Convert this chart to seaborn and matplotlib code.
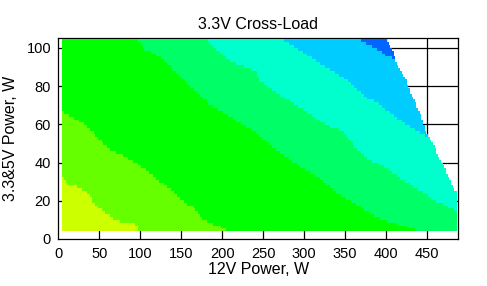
import numpy as np
import matplotlib
matplotlib.use("Agg")
import matplotlib.pyplot as plt
import seaborn as sns
from matplotlib.colors import ListedColormap

# ---- data (W) ----
title = "3.3V Cross-Load"
x_label = "12V Power, W"
y_label = "3.3&5V Power, W"
x_ticks = [0, 50, 100, 150, 200, 250, 300, 350, 400, 450]
y_ticks = [0, 20, 40, 60, 80, 100]

level_colors = ["#CCFF00", "#66FF00", "#00FF00", "#00FF66", "#00FFCC", "#00CCFF", "#0066FF"]

# boundary between level k and k+1: 12V power (x) at a given 3.3&5V power (y)
b0_y = [4, 7, 8.5, 9.5, 12, 15.3, 18.8, 24, 26.7, 29, 32.5]
b0_x = [98, 97, 90, 70, 63, 53, 43, 37, 26, 10, 5]
b1_y = [4, 6.5, 10, 16.6, 18, 27.5, 32.8, 39.8, 45, 47.4, 52, 59, 62.6, 67]
b1_x = [209, 197, 177, 165, 158, 132, 116, 96, 73, 60, 51, 35, 22, 5]
b2_y = [4, 6.1, 9.6, 14, 18.4, 23.7, 28.5, 31.6, 36.8, 43, 49, 56, 60.5, 65, 70.2, 75.4, 79, 82.4, 87.7, 93, 96.5, 99, 103.5, 105.5]
b2_x = [440, 427, 398, 378, 362, 341, 328, 319, 299, 278, 258, 240, 222, 207, 185, 173, 163, 155, 142, 130, 118, 106, 98, 89]
b3_y = [14, 15.8, 19.3, 23.7, 28, 32.4, 37.7, 42, 48.2, 57, 58.7, 60.5, 64, 67.5, 72, 75.4, 79, 82.4, 87.7, 90.3, 93, 96.5, 100, 102.6, 105.5]
b3_x = [488, 480, 463, 447, 431, 415, 398, 378, 362, 346, 331, 323, 311, 299, 283, 270, 258, 246, 242, 226, 209, 201, 191, 185, 179]
b4_y = [51, 54.4, 57, 60.5, 64, 68.4, 72, 74.5, 79, 84, 89.5, 94.7, 100, 105.5]
b4_x = [460, 447, 435, 423, 411, 398, 386, 374, 362, 350, 327, 309, 291, 267]
b5_y = [93, 94.7, 96.5, 99, 100.8, 103, 105.5]
b5_x = [412, 407, 398, 390, 382, 372, 359]
# combined power limit (right edge of the measured area)
lim_y = [20, 23, 27, 32, 39.5, 44, 48, 54, 58, 61, 66, 70, 74.5, 77, 82, 85, 88, 90, 94, 98, 101, 105.5]
lim_x = [490, 488, 482, 476, 469, 463, 459, 452, 447, 445, 441, 437, 433, 429, 425, 421, 419, 415, 411, 408, 404, 400]

x_min, x_max = 5, 488
y_min, y_max = 4, 105.5

# ---- build level raster ----
xe = np.arange(x_min, x_max + 0.01, 2.0)
ye = np.arange(y_min, y_max + 0.01, 1.5)
xc = (xe[:-1] + xe[1:]) / 2
yc = (ye[:-1] + ye[1:]) / 2
X, Y = np.meshgrid(xc, yc)

def bnd(by, bx, left, right):
    return np.interp(Y, by, bx, left=left, right=right)

level = np.zeros_like(X)
level += X > bnd(b0_y, b0_x, 1e4, -1)
level += X > bnd(b1_y, b1_x, 1e4, -1)
level += X > bnd(b2_y, b2_x, 1e4, -1)
level += X > bnd(b3_y, b3_x, 1e4, -1)
level += X > bnd(b4_y, b4_x, 1e4, -1)
level += X > bnd(b5_y, b5_x, 1e4, -1)
limit = bnd(lim_y, lim_x, 1e4, 0)
level = np.ma.masked_where(X > limit, level)

# ---- plot ----
sns.set_style("white")
plt.rcParams["font.family"] = ["Liberation Sans", "DejaVu Sans"]

fig = plt.figure(figsize=(4.87, 2.86), dpi=100)
ax = fig.add_axes([58.3 / 487, 1 - 239 / 286, 400 / 487, (239 - 38.3) / 286])

cmap = ListedColormap(sns.color_palette(level_colors))
ax.pcolormesh(xe, ye, level, cmap=cmap, vmin=-0.5, vmax=6.5, zorder=3, shading="flat")

for gx in x_ticks[1:]:
    ax.axvline(gx, color="black", lw=0.9, zorder=1)
for gy in y_ticks[1:]:
    ax.axhline(gy, color="black", lw=0.9, zorder=1)

ax.set_xlim(0, 488)
ax.set_ylim(0, 105)
ax.set_xticks(x_ticks)
ax.set_yticks(y_ticks)
for s in ax.spines.values():
    s.set_color("black")
    s.set_linewidth(0.9)
    s.set_visible(True)
ax.tick_params(axis="both", direction="inout", length=6.5, width=0.9, color="black",
               labelsize=10.5, labelcolor="black", pad=2)
ax.tick_params(axis="x", pad=2.5)
ax.set_xlabel(x_label, fontsize=11.5, color="black", labelpad=1)
ax.set_ylabel(y_label, fontsize=11.5, color="black", labelpad=6)
ax.set_title(title, fontsize=11.5, color="black", pad=7)

fig.savefig("out.png", dpi=100)
